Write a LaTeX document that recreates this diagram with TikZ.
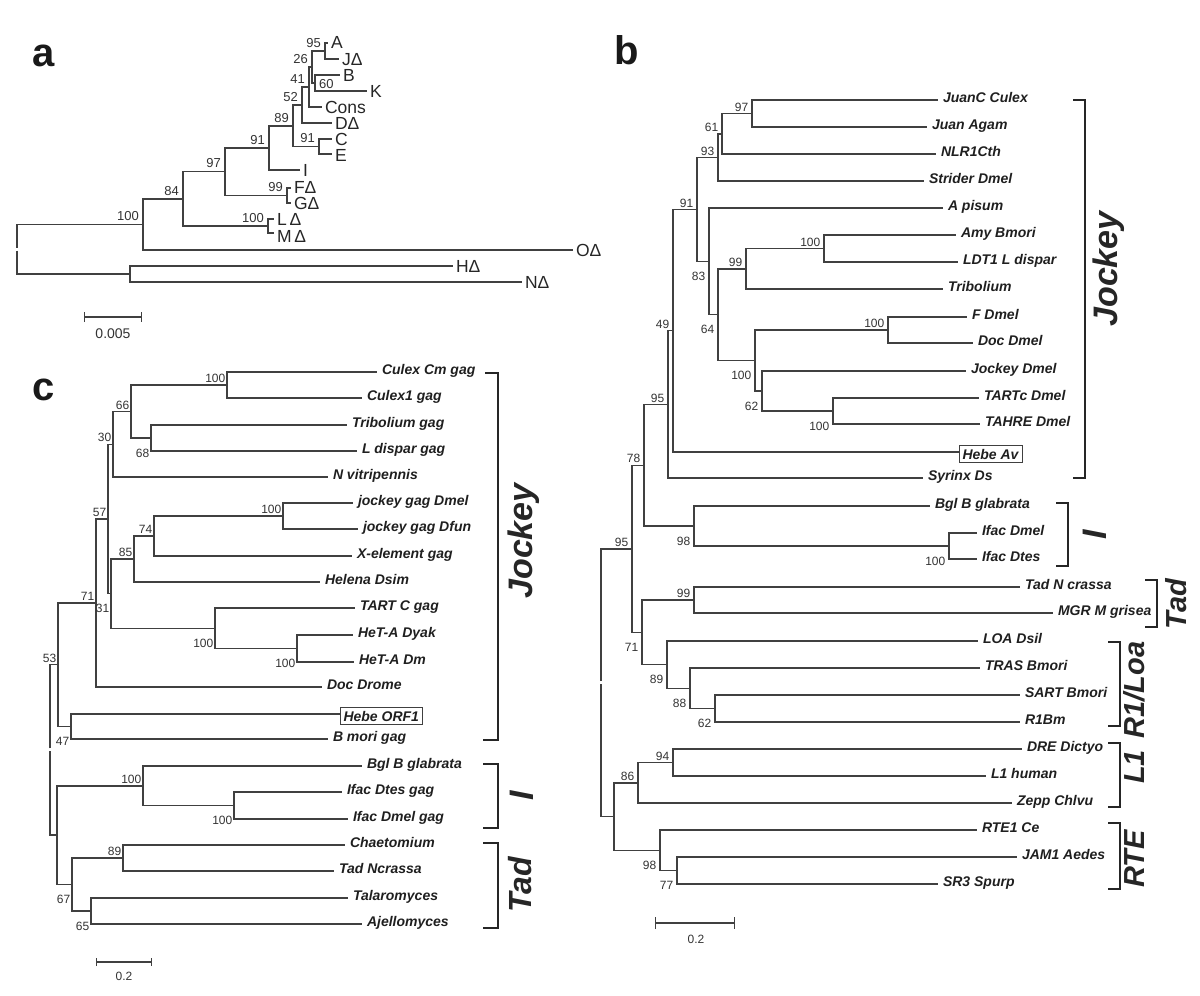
\documentclass[tikz,border=0pt]{standalone}
\usepackage{fontspec}
\setmainfont{Liberation Sans}
\usepackage{tikz}
\usetikzlibrary{arrows.meta}

\begin{document}
\begin{tikzpicture}[
  x=1pt, y=-1pt,
  branch/.style={draw=black!75, line width=1.4pt},
  rootbr/.style={branch, shorten <=1.5pt},
  leaf/.style={anchor=west, inner xsep=5pt, inner ysep=0pt, outer sep=0pt, text height=4pt, text depth=0pt, text=black!88, font=\fontsize{14}{16}\selectfont\bfseries\itshape},
  boxleaf/.style={leaf, draw=black!75, line width=0.9pt, inner xsep=3.5pt, inner ysep=3.5pt, text height=10pt},
  tip/.style={anchor=west, inner xsep=3pt, inner ysep=0pt, outer sep=0pt, text height=12.5pt, text depth=0pt, text=black!85, font=\fontsize{17.5}{19}\selectfont},
  num/.style={inner sep=0pt, text=black!80, font=\fontsize{12}{14}\selectfont},
  bup/.style={num, anchor=south east, xshift=-3.5pt, yshift=2pt},
  bdn/.style={num, anchor=north east, xshift=-3.5pt, yshift=-10.5pt},
  cup/.style={num, anchor=south east, xshift=-1.5pt, yshift=2pt},
  cdn/.style={num, anchor=north east, xshift=-1.5pt, yshift=-10.5pt},
  anum/.style={inner sep=0pt, text=black!80, font=\fontsize{13}{15}\selectfont},
  aup/.style={anum, anchor=south east, xshift=-4pt, yshift=3.5pt},
  panel/.style={anchor=base west, inner sep=0pt, text=black!90, font=\fontsize{40}{44}\selectfont\bfseries},
  clade/.style={anchor=base, rotate=90, inner sep=0pt, text=black!85, font=\fontsize{34}{36}\selectfont\bfseries\itshape},
  cladesm/.style={clade, font=\fontsize{29}{31}\selectfont\bfseries\itshape},
  bracket/.style={draw=black!85, line width=1.6pt},
  scalebar/.style={draw=black!75, line width=1.3pt},
  scalelbl/.style={anchor=north, inner sep=0pt, text=black!80, font=\fontsize{12}{14}\selectfont}
]
\useasboundingbox (0,0) rectangle (1200,996);

%% ---------------- Panel a ----------------
\node[panel] (pa) at (32,66) {a};

\coordinate (ra) at (17,249);
\coordinate (a100) at (143,224.5);
\coordinate (a84) at (183,199);
\coordinate (a97) at (225,171.5);
\coordinate (a91) at (269,148);
\coordinate (a89) at (293,126);
\coordinate (a52) at (302,105);
\coordinate (a41) at (309,87);
\coordinate (a26) at (312,67);
\coordinate (a95) at (325,51);
\coordinate (a60) at (315,83);
\coordinate (a91b) at (319,146.5);
\coordinate (a99) at (287,195.5);
\coordinate (a100b) at (268,226);
\coordinate (aHN) at (130,274);

\node[tip] (tA) at (328,42) {A};
\node[tip] (tJ) at (339,59) {JΔ};
\node[tip] (tB) at (340,75) {B};
\node[tip] (tK) at (367,91) {K};
\node[tip] (tCons) at (322,107) {Cons};
\node[tip] (tD) at (332,123) {DΔ};
\node[tip] (tC) at (332,139) {C};
\node[tip] (tE) at (332,155.5) {E};
\node[tip] (tI) at (300,170) {I};
\node[tip] (tF) at (291,187) {FΔ};
\node[tip] (tG) at (291,203) {GΔ};
\node[tip] (tL) at (274,219) {L\,Δ};
\node[tip] (tM) at (274,236.5) {M\,Δ};
\node[tip] (tO) at (573,250) {OΔ};
\node[tip] (tH) at (453,266) {HΔ};
\node[tip] (tN) at (522,282) {NΔ};

\draw[rootbr] (ra) |- (a100);
\draw[rootbr] (ra) |- (aHN);
\draw[branch] (a100) |- (a84) (a100) |- (tO.west);
\draw[branch] (a84) |- (a97) (a84) |- (a100b);
\draw[branch] (a97) |- (a91) (a97) |- (a99);
\draw[branch] (a91) |- (a89) (a91) |- (tI.west);
\draw[branch] (a89) |- (a52) (a89) |- (a91b);
\draw[branch] (a52) |- (a41) (a52) |- (tD.west);
\draw[branch] (a41) |- (a26) (a41) |- (tCons.west);
\draw[branch] (a26) |- (a95) (a26) |- (a60);
\draw[branch] (a95) |- ([yshift=-1pt]tA.west) (a95) |- (tJ.west);
\draw[branch] (a60) |- (tB.west) (a60) |- (tK.west);
\draw[branch] (a91b) |- (tC.west) (a91b) |- ([yshift=1.5pt]tE.west);
\draw[branch] (a99) |- ([yshift=-1pt]tF.west) (a99) |- (tG.west);
\draw[branch] (a100b) |- (tL.west) (a100b) |- ([yshift=3.5pt]tM.west);
\draw[branch] (aHN) |- (tH.west) (aHN) |- (tN.west);

\node[aup] (a100l) at (a100) {100};
\node[aup] (a84l) at (a84) {84};
\node[aup] (a97l) at (a97) {97};
\node[aup] (a91l) at (a91) {91};
\node[aup] (a89l) at (a89) {89};
\node[aup] (a52l) at (a52) {52};
\node[aup] (a41l) at (a41) {41};
\node[aup] (a26l) at (a26) {26};
\node[aup] (a95l) at (a95) {95};
\node[anum, anchor=west] (a60l) at (319,84) {60};
\node[aup] (a91bl) at (a91b) {91};
\node[aup] (a99l) at (a99) {99};
\node[aup] (a100bl) at (a100b) {100};

%% scale bar a
\coordinate (sa1) at (84,317);
\coordinate (sa2) at (142,317);
\draw[scalebar, {Bar[width=10pt]}-{Bar[width=10pt]}] (sa1) -- (sa2);
\node[scalelbl, font=\fontsize{14}{16}\selectfont] (sal) at (113,329) {0.005};

%% ---------------- Panel b ----------------
\node[panel] (pb) at (614,64) {b};

\coordinate (rb) at (601,682.6);
\coordinate (b95) at (632,548.8);
\coordinate (b78) at (644,465.2);
\coordinate (b95b) at (668,404.4);
\coordinate (b49) at (673,330.7);
\coordinate (b91) at (697,209.4);
\coordinate (b93) at (718,157.4);
\coordinate (b61) at (722,133.8);
\coordinate (b97) at (752,113.5);
\coordinate (b83) at (709,261.3);
\coordinate (b64) at (718,314.6);
\coordinate (b99) at (746,268.8);
\coordinate (b100a) at (824,248.5);
\coordinate (b100c) at (755,360.5);
\coordinate (b100b) at (888,330);
\coordinate (b62) at (762,391);
\coordinate (b100d) at (833,411);
\coordinate (b98) at (694,526);
\coordinate (b100e) at (949,546);
\coordinate (b71) at (642,632.3);
\coordinate (b99t) at (694,600);
\coordinate (b89) at (667,664.6);
\coordinate (b88) at (690,688.3);
\coordinate (b62b) at (715,708.5);
\coordinate (blow) at (614,816.5);
\coordinate (b86) at (638,782.8);
\coordinate (b94) at (673,762.5);
\coordinate (b98b) at (660,850.3);
\coordinate (b77) at (677,870.5);

\node[leaf] (juanc) at (938,100) {JuanC Culex};
\node[leaf] (juan) at (927,127) {Juan Agam};
\node[leaf] (nlr) at (936,154) {NLR1Cth};
\node[leaf] (strider) at (924,181) {Strider Dmel};
\node[leaf] (apisum) at (943,208) {A pisum};
\node[leaf] (amy) at (956,235) {Amy Bmori};
\node[leaf] (ldt) at (958,262) {LDT1 L dispar};
\node[leaf] (tribb) at (943,289) {Tribolium};
\node[leaf] (fdmel) at (967,317) {F Dmel};
\node[leaf] (docdmel) at (973,343) {Doc Dmel};
\node[leaf] (jockdmel) at (966,371) {Jockey Dmel};
\node[leaf] (tartc) at (979,398) {TARTc Dmel};
\node[leaf] (tahre) at (980,424) {TAHRE Dmel};
\node[boxleaf] (hebeav) at (959,454) {Hebe Av};
\node[leaf] (syrinx) at (923,478) {Syrinx Ds};
\node[leaf] (bglb) at (930,506) {Bgl B glabrata};
\node[leaf] (ifacdmel) at (977,533) {Ifac Dmel};
\node[leaf] (ifacdtes) at (977,559) {Ifac Dtes};
\node[leaf] (tadn) at (1020,587) {Tad N crassa};
\node[leaf] (mgr) at (1053,613) {MGR M grisea};
\node[leaf] (loa) at (978,641) {LOA Dsil};
\node[leaf] (tras) at (980,668) {TRAS Bmori};
\node[leaf] (sart) at (1020,695) {SART Bmori};
\node[leaf] (rbm) at (1020,722) {R1Bm};
\node[leaf] (dre) at (1022,749) {DRE Dictyo};
\node[leaf] (lhuman) at (986,776) {L1 human};
\node[leaf] (zepp) at (1012,803) {Zepp Chlvu};
\node[leaf] (rte) at (977,830) {RTE1 Ce};
\node[leaf] (jam) at (1017,857) {JAM1 Aedes};
\node[leaf] (srspurp) at (938,884) {SR3 Spurp};

\draw[rootbr] (rb) |- (b95);
\draw[rootbr] (rb) |- (blow);
\draw[branch] (b95) |- (b78) (b95) |- (b71);
\draw[branch] (b78) |- (b95b) (b78) |- (b98);
\draw[branch] (b95b) |- (b49) (b95b) |- (syrinx.west);
\draw[branch] (b49) |- (b91) (b49) |- ([yshift=2pt]hebeav.west);
\draw[branch] (b91) |- (b93) (b91) |- (b83);
\draw[branch] (b93) |- (b61) (b93) |- (strider.west);
\draw[branch] (b61) |- (b97) (b61) |- (nlr.west);
\draw[branch] (b97) |- (juanc.west) (b97) |- (juan.west);
\draw[branch] (b83) |- (apisum.west) (b83) |- (b64);
\draw[branch] (b64) |- (b99) (b64) |- (b100c);
\draw[branch] (b99) |- (b100a) (b99) |- (tribb.west);
\draw[branch] (b100a) |- (amy.west) (b100a) |- (ldt.west);
\draw[branch] (b100c) |- (b100b) (b100c) |- (b62);
\draw[branch] (b100b) |- (fdmel.west) (b100b) |- (docdmel.west);
\draw[branch] (b62) |- (jockdmel.west) (b62) |- (b100d);
\draw[branch] (b100d) |- (tartc.west) (b100d) |- (tahre.west);
\draw[branch] (b98) |- (bglb.west) (b98) |- (b100e);
\draw[branch] (b100e) |- (ifacdmel.west) (b100e) |- (ifacdtes.west);
\draw[branch] (b71) |- (b99t) (b71) |- (b89);
\draw[branch] (b99t) |- (tadn.west) (b99t) |- (mgr.west);
\draw[branch] (b89) |- (loa.west) (b89) |- (b88);
\draw[branch] (b88) |- (tras.west) (b88) |- (b62b);
\draw[branch] (b62b) |- (sart.west) (b62b) |- (rbm.west);
\draw[branch] (blow) |- (b86) (blow) |- (b98b);
\draw[branch] (b86) |- (b94) (b86) |- (zepp.west);
\draw[branch] (b94) |- (dre.west) (b94) |- (lhuman.west);
\draw[branch] (b98b) |- (rte.west) (b98b) |- (b77);
\draw[branch] (b77) |- (jam.west) (b77) |- (srspurp.west);

\node[bup] (b97l) at (b97) {97};
\node[bup] (b61l) at (b61) {61};
\node[bup] (b93l) at (b93) {93};
\node[bup] (b91l) at (b91) {91};
\node[bdn] (b83l) at (b83) {83};
\node[bdn] (b64l) at (b64) {64};
\node[bup] (b99l) at (b99) {99};
\node[bup] (b100al) at (b100a) {100};
\node[bup] (b100bl) at (b100b) {100};
\node[bdn] (b100cl) at (b100c) {100};
\node[bdn] (b62l) at (b62) {62};
\node[bdn] (b100dl) at (b100d) {100};
\node[bup] (b49l) at (b49) {49};
\node[bup] (b95bl) at (b95b) {95};
\node[bup] (b78l) at (b78) {78};
\node[bdn] (b98l) at (b98) {98};
\node[bdn] (b100el) at (b100e) {100};
\node[bup] (b95l) at (b95) {95};
\node[bdn] (b71l) at (b71) {71};
\node[bup] (b99tl) at (b99t) {99};
\node[bdn] (b89l) at (b89) {89};
\node[bdn] (b88l) at (b88) {88};
\node[bdn] (b62bl) at (b62b) {62};
\node[bup] (b86l) at (b86) {86};
\node[bup] (b94l) at (b94) {94};
\node[bdn] (b98bl) at (b98b) {98};
\node[bdn] (b77l) at (b77) {77};

%% clades b
\coordinate (bjt) at (1073,100);
\coordinate (bjb) at (1073,478);
\draw[bracket] (bjt) -- ++(12,0) |- (bjb);
\node[clade] (bjock) at (1117,269) {Jockey};
\coordinate (bit) at (1056,503);
\coordinate (bib) at (1056,566);
\draw[bracket] (bit) -- ++(12,0) |- (bib);
\node[clade] (bi) at (1106,535) {I};
\coordinate (btt) at (1145,580);
\coordinate (btb) at (1145,627);
\draw[bracket] (btt) -- ++(12,0) |- (btb);
\node[cladesm] (btad) at (1186,604) {Tad};
\coordinate (brt) at (1108,642);
\coordinate (brb) at (1108,726);
\draw[bracket] (brt) -- ++(12,0) |- (brb);
\node[cladesm] (brloa) at (1144,690) {R1/Loa};
\coordinate (blt) at (1108,743);
\coordinate (blb) at (1108,807);
\draw[bracket] (blt) -- ++(12,0) |- (blb);
\node[cladesm] (bl) at (1144,767) {L1};
\coordinate (bet) at (1108,823);
\coordinate (beb) at (1108,889);
\draw[bracket] (bet) -- ++(12,0) |- (beb);
\node[cladesm] (brte) at (1144,859) {RTE};

%% scale bar b
\coordinate (sb1) at (655,923);
\coordinate (sb2) at (735,923);
\draw[scalebar, {Bar[width=12pt]}-{Bar[width=12pt]}] (sb1) -- (sb2);
\node[scalelbl] (sbl) at (696,935) {0.2};

%% ---------------- Panel c ----------------
\node[panel] (pc) at (32,400) {c};

\coordinate (rc) at (50,749.9);
\coordinate (c53) at (58,664.7);
\coordinate (c71) at (96,603);
\coordinate (c57) at (108,518.9);
\coordinate (c30) at (113,444.3);
\coordinate (c66) at (131,411.5);
\coordinate (c100a) at (227,385);
\coordinate (c68) at (151,438);
\coordinate (c31) at (111,593.6);
\coordinate (c85) at (134,559);
\coordinate (c74) at (154,536);
\coordinate (c100b) at (283,516);
\coordinate (c100c) at (215,628.3);
\coordinate (c100d) at (297,648.5);
\coordinate (c47) at (71,726.5);
\coordinate (clow) at (57,835.1);
\coordinate (c100e) at (143,785.8);
\coordinate (c100f) at (234,805.5);
\coordinate (c67) at (72,884.5);
\coordinate (c89) at (123,858);
\coordinate (c65) at (91,911);

\node[leaf] (culexcm) at (377,372) {Culex Cm gag};
\node[leaf] (culex1) at (362,398) {Culex1 gag};
\node[leaf] (tribc) at (347,425) {Tribolium gag};
\node[leaf] (ldispar) at (357,451) {L dispar gag};
\node[leaf] (nvitri) at (328,477) {N vitripennis};
\node[leaf] (jgdmel) at (353,503) {jockey gag Dmel};
\node[leaf] (jgdfun) at (358,529) {jockey gag Dfun};
\node[leaf] (xel) at (352,556) {X-element gag};
\node[leaf] (helena) at (320,582) {Helena Dsim};
\node[leaf] (tartcgag) at (355,608) {TART C gag};
\node[leaf] (hetdyak) at (353,635) {HeT-A Dyak};
\node[leaf] (hetdm) at (354,662) {HeT-A Dm};
\node[leaf] (docdrome) at (322,687) {Doc Drome};
\node[boxleaf] (hebeorf) at (340,716) {Hebe ORF1};
\node[leaf] (bmori) at (328,739) {B mori gag};
\node[leaf] (bglc) at (362,766) {Bgl B glabrata};
\node[leaf] (ifacdtesg) at (342,792) {Ifac Dtes gag};
\node[leaf] (ifacdmelg) at (348,819) {Ifac Dmel gag};
\node[leaf] (chaeto) at (345,845) {Chaetomium};
\node[leaf] (tadnc) at (334,871) {Tad Ncrassa};
\node[leaf] (talaro) at (348,898) {Talaromyces};
\node[leaf] (ajello) at (362,924) {Ajellomyces};

\draw[rootbr] (rc) |- (c53);
\draw[rootbr] (rc) |- (clow);
\draw[branch] (c53) |- (c71) (c53) |- (c47);
\draw[branch] (c71) |- (c57) (c71) |- (docdrome.west);
\draw[branch] (c57) |- (c30) (c57) |- (c31);
\draw[branch] (c30) |- (c66) (c30) |- (nvitri.west);
\draw[branch] (c66) |- (c100a) (c66) |- (c68);
\draw[branch] (c100a) |- (culexcm.west) (c100a) |- (culex1.west);
\draw[branch] (c68) |- (tribc.west) (c68) |- (ldispar.west);
\draw[branch] (c31) |- (c85) (c31) |- (c100c);
\draw[branch] (c85) |- (c74) (c85) |- (helena.west);
\draw[branch] (c74) |- (c100b) (c74) |- (xel.west);
\draw[branch] (c100b) |- (jgdmel.west) (c100b) |- (jgdfun.west);
\draw[branch] (c100c) |- (tartcgag.west) (c100c) |- (c100d);
\draw[branch] (c100d) |- (hetdyak.west) (c100d) |- (hetdm.west);
\draw[branch] (c47) |- ([yshift=2pt]hebeorf.west) (c47) |- (bmori.west);
\draw[branch] (clow) |- (c100e) (clow) |- (c67);
\draw[branch] (c100e) |- (bglc.west) (c100e) |- (c100f);
\draw[branch] (c100f) |- (ifacdtesg.west) (c100f) |- (ifacdmelg.west);
\draw[branch] (c67) |- (c89) (c67) |- (c65);
\draw[branch] (c89) |- (chaeto.west) (c89) |- (tadnc.west);
\draw[branch] (c65) |- (talaro.west) (c65) |- (ajello.west);

\node[cup] (c100al) at (c100a) {100};
\node[cdn] (c68l) at (c68) {68};
\node[cup] (c66l) at (c66) {66};
\node[cup] (c30l) at (c30) {30};
\node[cup] (c57l) at (c57) {57};
\node[cdn] (c31l) at (c31) {31};
\node[cup] (c85l) at (c85) {85};
\node[cup] (c74l) at (c74) {74};
\node[cup] (c100bl) at (c100b) {100};
\node[cdn] (c100cl) at (c100c) {100};
\node[cdn] (c100dl) at (c100d) {100};
\node[cup] (c71l) at (c71) {71};
\node[cdn] (c47l) at (c47) {47};
\node[cup] (c53l) at (c53) {53};
\node[cup] (c100el) at (c100e) {100};
\node[cdn] (c100fl) at (c100f) {100};
\node[cdn] (c67l) at (c67) {67};
\node[cup] (c89l) at (c89) {89};
\node[cdn] (c65l) at (c65) {65};

%% clades c
\coordinate (cjt) at (485,373);
\coordinate (cjb) at (483,740);
\draw[bracket] (cjt) -- ++(13,0) |- (cjb);
\node[clade] (cjock) at (532,541) {Jockey};
\coordinate (cit) at (483,764);
\coordinate (cib) at (483,828);
\draw[bracket] (cit) -- ++(15,0) |- (cib);
\node[clade] (ci) at (533,796) {I};
\coordinate (ctt) at (483,843);
\coordinate (ctb) at (483,928);
\draw[bracket] (ctt) -- ++(15,0) |- (ctb);
\node[clade, font=\fontsize{32}{34}\selectfont\bfseries\itshape] (ctad) at (531,885) {Tad};

%% scale bar c
\coordinate (sc1) at (96,962);
\coordinate (sc2) at (152,962);
\draw[scalebar, {Bar[width=8pt]}-{Bar[width=8pt]}] (sc1) -- (sc2);
\node[scalelbl] (scl) at (124,972) {0.2};

\end{tikzpicture}
\end{document}
